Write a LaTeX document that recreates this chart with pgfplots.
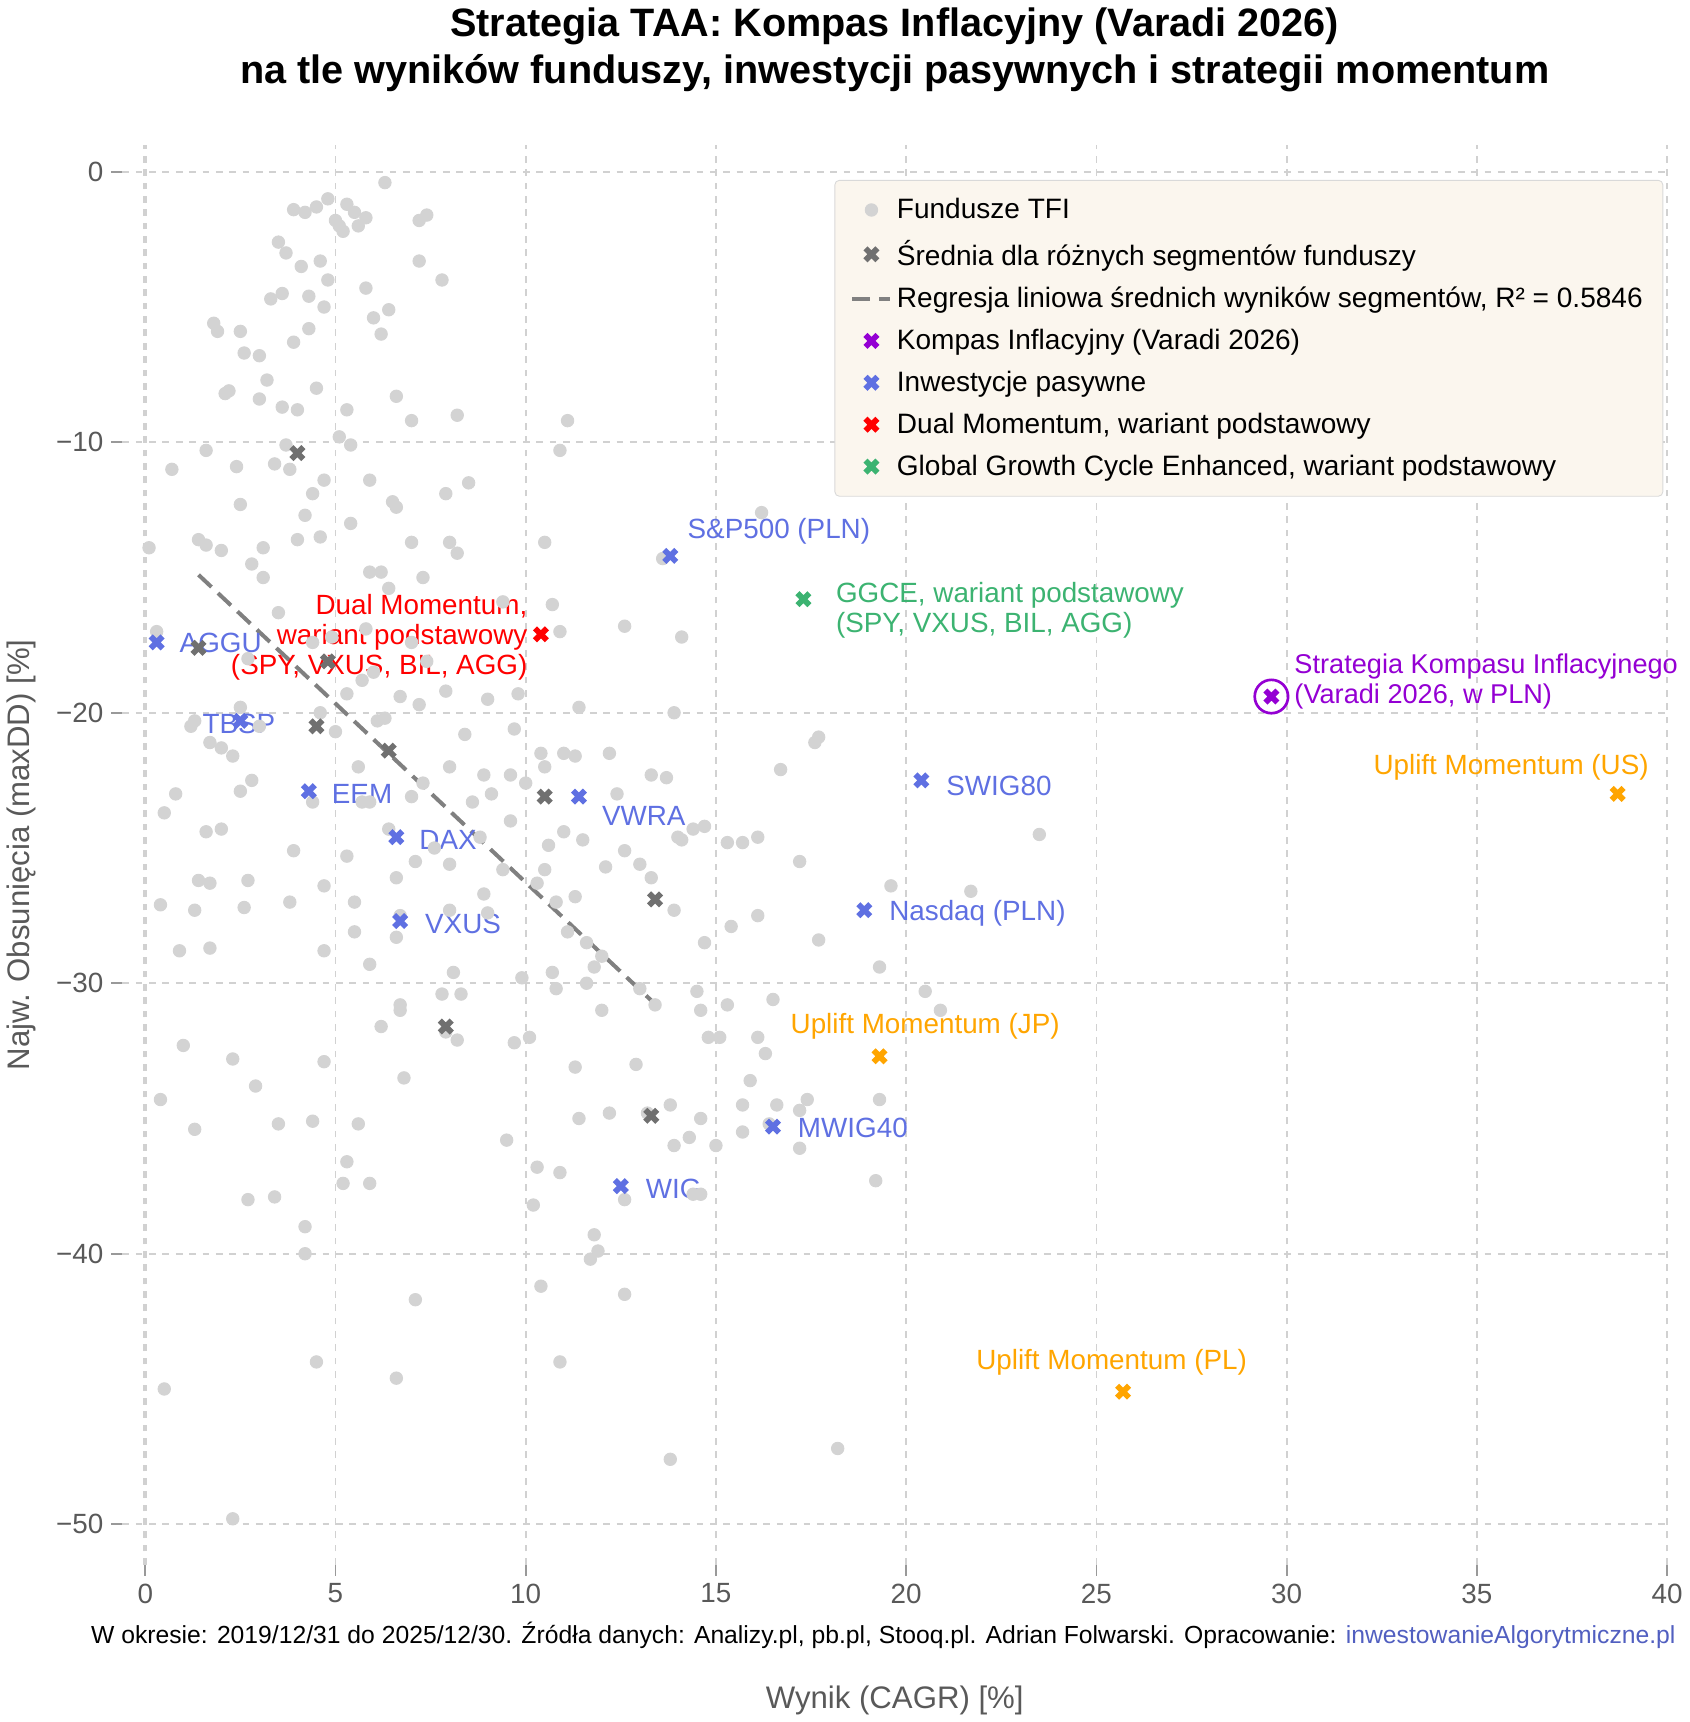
\documentclass[border=0pt]{standalone}
\usepackage{pgfplots}
\pgfplotsset{compat=1.18}
\usepackage{fontspec}
\setmainfont{Liberation Sans}
\definecolor{pblue}{HTML}{5F70E2}
\definecolor{pgreen}{HTML}{3CB371}
\definecolor{ppurple}{HTML}{9400D3}
\definecolor{porange}{HTML}{FFA500}
\definecolor{avg}{HTML}{707070}
\definecolor{tfi}{HTML}{D3D3D3}
\definecolor{legbg}{HTML}{FBF6EE}
\begin{document}
\begin{tikzpicture}
\begin{axis}[
 scale only axis, width=694pt, height=638pt,
 xmin=-0.6, xmax=40, ymin=-51.5, ymax=1,
 axis line style={draw=none},
 grid=major, grid style={dashed, color=black!18, line width=0.8pt},
 xtick={0,5,...,40}, ytick={-50,-40,-30,-20,-10,0},
 yticklabels={−50,−40,−30,−20,−10,0},
 /pgf/number format/assume math mode=true,
 tick style={color=black!40, line width=0.8pt}, major tick length=5pt,
 tick align=outside, xtick pos=bottom, ytick pos=left,
 ticklabel style={font=\fontsize{12.5}{15}\selectfont, color=black!65},
 xlabel={Wynik (CAGR) [\%]}, ylabel={Najw. Obsunięcia (maxDD) [\%]},
 label style={font=\fontsize{14}{17}\selectfont, color=black!65},
 xlabel style={yshift=-30pt}, ylabel style={yshift=2pt},
 legend style={at={(axis cs:39.9,-0.3)}, anchor=north east, fill=legbg, draw=black!15, rounded corners=2pt,
   font=\fontsize{12.6}{15}\selectfont, row sep=4.2pt, inner xsep=7pt, inner ysep=6pt},
 legend cell align=left,
 title style={font=\fontsize{17.8}{21.5}\selectfont\bfseries, align=center, yshift=14pt},
 title={Strategia TAA: Kompas Inflacyjny (Varadi 2026)\\na tle wyników funduszy, inwestycji pasywnych i strategii momentum},
 clip=false,
]
\draw[dashed, color=black!18, line width=2pt] (axis cs:0,-51.5) -- (axis cs:0,1);
\addlegendimage{only marks, mark=*, mark size=2.8pt, color=tfi}
\addlegendentry{Fundusze TFI}
\addlegendimage{only marks, mark=x, mark size=3.8pt, line width=2.6pt, color=avg}
\addlegendentry{Średnia dla różnych segmentów funduszy}
\addlegendimage{dash pattern=on 8pt off 4pt, line width=1.8pt, color=gray}
\addlegendentry{Regresja liniowa średnich wyników segmentów, R² = 0.5846}
\addlegendimage{only marks, mark=x, mark size=3.8pt, line width=2.6pt, color=ppurple}
\addlegendentry{Kompas Inflacyjny (Varadi 2026)}
\addlegendimage{only marks, mark=x, mark size=3.8pt, line width=2.6pt, color=pblue}
\addlegendentry{Inwestycje pasywne}
\addlegendimage{only marks, mark=x, mark size=3.8pt, line width=2.6pt, color=red}
\addlegendentry{Dual Momentum, wariant podstawowy}
\addlegendimage{only marks, mark=x, mark size=3.8pt, line width=2.6pt, color=pgreen}
\addlegendentry{Global Growth Cycle Enhanced, wariant podstawowy}

\addplot[only marks, mark=*, mark size=2.8pt, color=tfi, forget plot] coordinates {
(4.5,-1.3)(4.8,-1.0)(5.5,-1.5)(5.8,-1.7)(6.3,-0.4)(5.1,-2.0)(5.3,-1.2)(4.2,-1.5)(3.9,-1.4)(3.5,-2.6)(3.7,-3.0)(4.1,-3.5)(4.6,-3.3)(4.8,-4.0)(5.0,-1.8)(5.2,-2.2)(5.6,-2.0)(5.8,-4.3)(6.0,-5.4)(6.4,-5.1)(6.2,-6.0)(7.2,-1.8)(7.4,-1.6)(7.2,-3.3)(7.8,-4.0)(4.3,-4.6)(3.6,-4.5)(3.3,-4.7)(3.0,-6.8)(2.6,-6.7)(2.5,-5.9)(1.8,-5.6)(1.9,-5.9)(2.1,-8.2)(2.2,-8.1)(3.2,-7.7)(3.0,-8.4)(3.6,-8.7)(4.0,-8.8)(4.5,-8.0)(3.9,-6.3)(4.3,-5.8)(4.7,-5.0)(5.3,-8.8)(6.6,-8.3)(7.0,-9.2)(8.2,-9.0)(5.1,-9.8)(5.4,-10.1)(3.7,-10.1)(3.4,-10.8)(3.8,-11.0)(4.4,-11.9)(4.2,-12.7)(4.7,-11.4)(5.9,-11.4)(6.5,-12.2)(6.6,-12.4)(7.9,-11.9)(8.5,-11.5)(2.4,-10.9)(2.5,-12.3)(1.6,-10.3)(0.7,-11.0)(1.4,-13.6)(1.6,-13.8)(2.0,-14.0)(2.8,-14.5)(3.1,-13.9)(4.0,-13.6)(4.6,-13.5)(5.4,-13.0)(5.9,-14.8)(6.2,-14.8)(6.4,-15.4)(7.0,-13.7)(7.3,-15.0)(8.0,-13.7)(8.2,-14.1)(0.1,-13.9)(0.3,-17.0)(1.3,-20.3)(1.2,-20.5)(1.7,-21.1)(2.0,-21.3)(2.3,-21.6)(2.5,-22.9)(2.8,-22.5)(2.0,-24.3)(1.6,-24.4)(0.8,-23.0)(0.5,-23.7)(0.4,-27.1)(1.4,-26.2)(1.7,-26.3)(1.3,-27.3)(2.6,-27.2)(2.7,-26.2)(0.9,-28.8)(1.7,-28.7)(1.0,-32.3)(2.3,-32.8)(2.9,-33.8)(1.3,-35.4)(0.4,-34.3)(0.5,-45.0)(2.3,-49.8)(2.7,-38.0)(3.4,-37.9)(4.2,-39.0)(4.2,-40.0)(4.4,-35.1)(4.5,-44.0)(4.7,-32.9)(5.3,-36.6)(5.2,-37.4)(5.9,-37.4)(5.6,-35.2)(6.6,-44.6)(7.1,-41.7)(6.8,-33.5)(6.2,-31.6)(6.7,-31.0)(6.7,-30.8)(7.9,-31.8)(8.2,-32.1)(8.1,-29.6)(8.3,-30.4)(7.8,-30.4)(5.9,-29.3)(5.5,-27.0)(5.5,-28.1)(6.7,-27.5)(6.6,-28.3)(4.7,-28.8)(4.7,-26.4)(3.8,-27.0)(3.9,-25.1)(5.3,-25.3)(6.6,-26.1)(7.1,-25.5)(7.6,-25.0)(8.0,-25.6)(8.6,-23.3)(8.9,-22.3)(9.1,-23.0)(9.6,-22.3)(10.0,-22.6)(10.4,-21.5)(10.5,-22.0)(11.0,-21.5)(11.3,-21.6)(12.2,-21.5)(12.4,-23.0)(13.3,-22.3)(13.7,-22.4)(14.1,-24.7)(14.4,-24.3)(14.7,-24.2)(14.0,-24.6)(15.3,-24.8)(15.7,-24.8)(16.1,-24.6)(16.7,-22.1)(17.6,-21.1)(17.7,-20.9)(19.6,-26.4)(21.7,-26.6)(23.5,-24.5)(20.5,-30.3)(20.9,-31.0)(19.3,-29.4)(17.7,-28.4)(17.2,-25.5)(16.1,-27.5)(15.4,-27.9)(14.7,-28.5)(13.9,-27.3)(13.3,-26.1)(13.0,-25.6)(12.6,-25.1)(12.1,-25.7)(11.5,-24.7)(11.0,-24.4)(10.6,-24.9)(10.5,-25.8)(10.3,-26.3)(10.8,-27.0)(11.3,-26.8)(11.6,-28.5)(12.0,-29.0)(11.8,-29.4)(11.1,-28.1)(10.7,-29.6)(10.8,-30.2)(9.9,-29.8)(9.0,-27.4)(8.9,-26.7)(8.0,-27.3)(8.8,-24.6)(9.4,-25.8)(9.6,-24.0)(9.7,-20.6)(9.8,-19.3)(9.0,-19.5)(8.4,-20.8)(7.9,-19.2)(7.2,-19.7)(6.7,-19.4)(6.1,-20.3)(5.3,-19.3)(5.0,-20.7)(5.6,-22.0)(5.9,-23.3)(6.4,-24.3)(7.0,-23.1)(7.3,-22.6)(8.0,-22.0)(4.4,-23.3)(3.0,-20.5)(2.5,-19.8)(2.7,-18.0)(3.1,-15.0)(3.5,-16.3)(4.4,-17.4)(4.9,-17.2)(5.8,-16.9)(6.0,-18.5)(7.0,-17.4)(7.4,-18.1)(5.7,-18.8)(6.3,-20.2)(10.5,-13.7)(10.7,-16.0)(10.9,-10.3)(11.1,-9.2)(10.9,-17.0)(12.6,-16.8)(13.6,-14.3)(14.1,-17.2)(13.9,-20.0)(11.4,-19.8)(16.2,-12.6)(9.4,-15.9)(13.0,-30.2)(13.4,-30.8)(12.9,-33.0)(13.2,-34.8)(13.8,-34.5)(13.9,-36.0)(14.3,-35.7)(14.6,-35.0)(14.4,-37.8)(14.6,-37.8)(12.6,-38.0)(11.8,-39.3)(11.9,-39.9)(11.7,-40.2)(10.4,-41.2)(10.9,-44.0)(10.9,-37.0)(10.3,-36.8)(9.5,-35.8)(10.2,-38.2)(11.4,-35.0)(12.2,-34.8)(12.6,-41.5)(11.3,-33.1)(12.0,-31.0)(11.6,-30.0)(10.1,-32.0)(9.7,-32.2)(14.5,-30.3)(14.6,-31.0)(14.8,-32.0)(15.1,-32.0)(15.3,-30.8)(15.0,-36.0)(15.7,-35.5)(15.7,-34.5)(15.9,-33.6)(16.1,-32.0)(16.3,-32.6)(16.5,-30.6)(16.6,-34.5)(16.4,-35.2)(17.2,-36.1)(17.2,-34.7)(17.4,-34.3)(19.3,-34.3)(19.2,-37.3)(18.2,-47.2)(13.8,-47.6)(3.5,-35.2)(4.6,-20.0)(5.7,-23.3)
};
\addplot[only marks, mark=x, mark size=3.8pt, line width=2.6pt, color=avg, forget plot] coordinates {
(1.4,-17.6)(4.0,-10.4)(4.8,-18.1)(4.5,-20.5)(6.4,-21.4)(10.5,-23.1)(13.4,-26.9)(7.9,-31.6)(13.3,-34.9)};
\addplot[dash pattern=on 8pt off 4pt, line width=1.8pt, color=gray, forget plot] coordinates {(1.4,-14.9)(13.5,-30.9)};
\addplot[only marks, mark=x, mark size=3.8pt, line width=2.6pt, color=pblue, forget plot] coordinates {
(0.3,-17.4)(2.5,-20.3)(4.3,-22.9)(6.6,-24.6)(6.7,-27.7)(11.4,-23.1)(13.8,-14.2)(20.4,-22.5)(18.9,-27.3)(16.5,-35.3)(12.5,-37.5)};
\addplot[only marks, mark=x, mark size=3.8pt, line width=2.6pt, color=red, forget plot] coordinates {(10.4,-17.1)};
\addplot[only marks, mark=x, mark size=3.8pt, line width=2.6pt, color=pgreen, forget plot] coordinates {(17.3,-15.8)};
\addplot[only marks, mark=x, mark size=3.8pt, line width=2.6pt, color=porange, forget plot] coordinates {(38.7,-23.0)(19.3,-32.7)(25.7,-45.1)};
\addplot[only marks, mark=o, mark size=7.5pt, line width=1.2pt, color=ppurple, forget plot] coordinates {(29.6,-19.4)};
\addplot[only marks, mark=x, mark size=3.8pt, line width=2.6pt, color=ppurple, forget plot] coordinates {(29.6,-19.4)};

\begin{scope}[every node/.style={font=\fontsize{12.5}{15}\selectfont}]
\node[anchor=west, text=pblue] at (axis cs:0.7,-17.4) {AGGU};
\node[anchor=west, text=pblue] at (axis cs:1.3,-20.4) {TBSP};
\node[anchor=west, text=pblue] at (axis cs:4.7,-23.0) {EEM};
\node[anchor=west, text=pblue] at (axis cs:7.0,-24.7) {DAX};
\node[anchor=west, text=pblue] at (axis cs:7.15,-27.8) {VXUS};
\node[anchor=west, text=pblue] at (axis cs:11.8,-23.8) {VWRA};
\node[anchor=west, text=pblue] at (axis cs:14.05,-13.3) {S\&P500 (PLN)};
\node[anchor=west, text=pblue] at (axis cs:20.85,-22.7) {SWIG80};
\node[anchor=west, text=pblue] at (axis cs:19.35,-27.4) {Nasdaq (PLN)};
\node[anchor=west, text=pblue] at (axis cs:16.95,-35.35) {MWIG40};
\node[anchor=west, text=pblue] at (axis cs:12.95,-37.6) {WIG};
\node[anchor=east, text=red, align=right, font=\fontsize{12.5}{13.5}\selectfont] at (axis cs:10.25,-17.2) {Dual Momentum,\\wariant podstawowy\\(SPY, VXUS, BIL, AGG)};
\node[anchor=west, text=pgreen, align=left, font=\fontsize{12.5}{13.5}\selectfont] at (axis cs:17.95,-16.2) {GGCE, wariant podstawowy\\(SPY, VXUS, BIL, AGG)};
\node[anchor=west, text=ppurple, align=left, font=\fontsize{12.2}{13.5}\selectfont] at (axis cs:30.0,-18.85) {Strategia Kompasu Inflacyjnego\\(Varadi 2026, w PLN)};
\node[text=porange] at (axis cs:35.9,-22.0) {Uplift Momentum (US)};
\node[text=porange] at (axis cs:20.5,-31.6) {Uplift Momentum (JP)};
\node[text=porange] at (axis cs:25.4,-44.0) {Uplift Momentum (PL)};
\node[anchor=center, font=\fontsize{11.1}{13}\selectfont] at (axis cs:19.4,-54.1) {W okresie: 2019/12/31 do 2025/12/30. Źródła danych: Analizy.pl, pb.pl, Stooq.pl. Adrian Folwarski. Opracowanie: \textcolor{pblue!85!black}{inwestowanieAlgorytmiczne.pl}};
\end{scope}
\end{axis}
\end{tikzpicture}
\end{document}
